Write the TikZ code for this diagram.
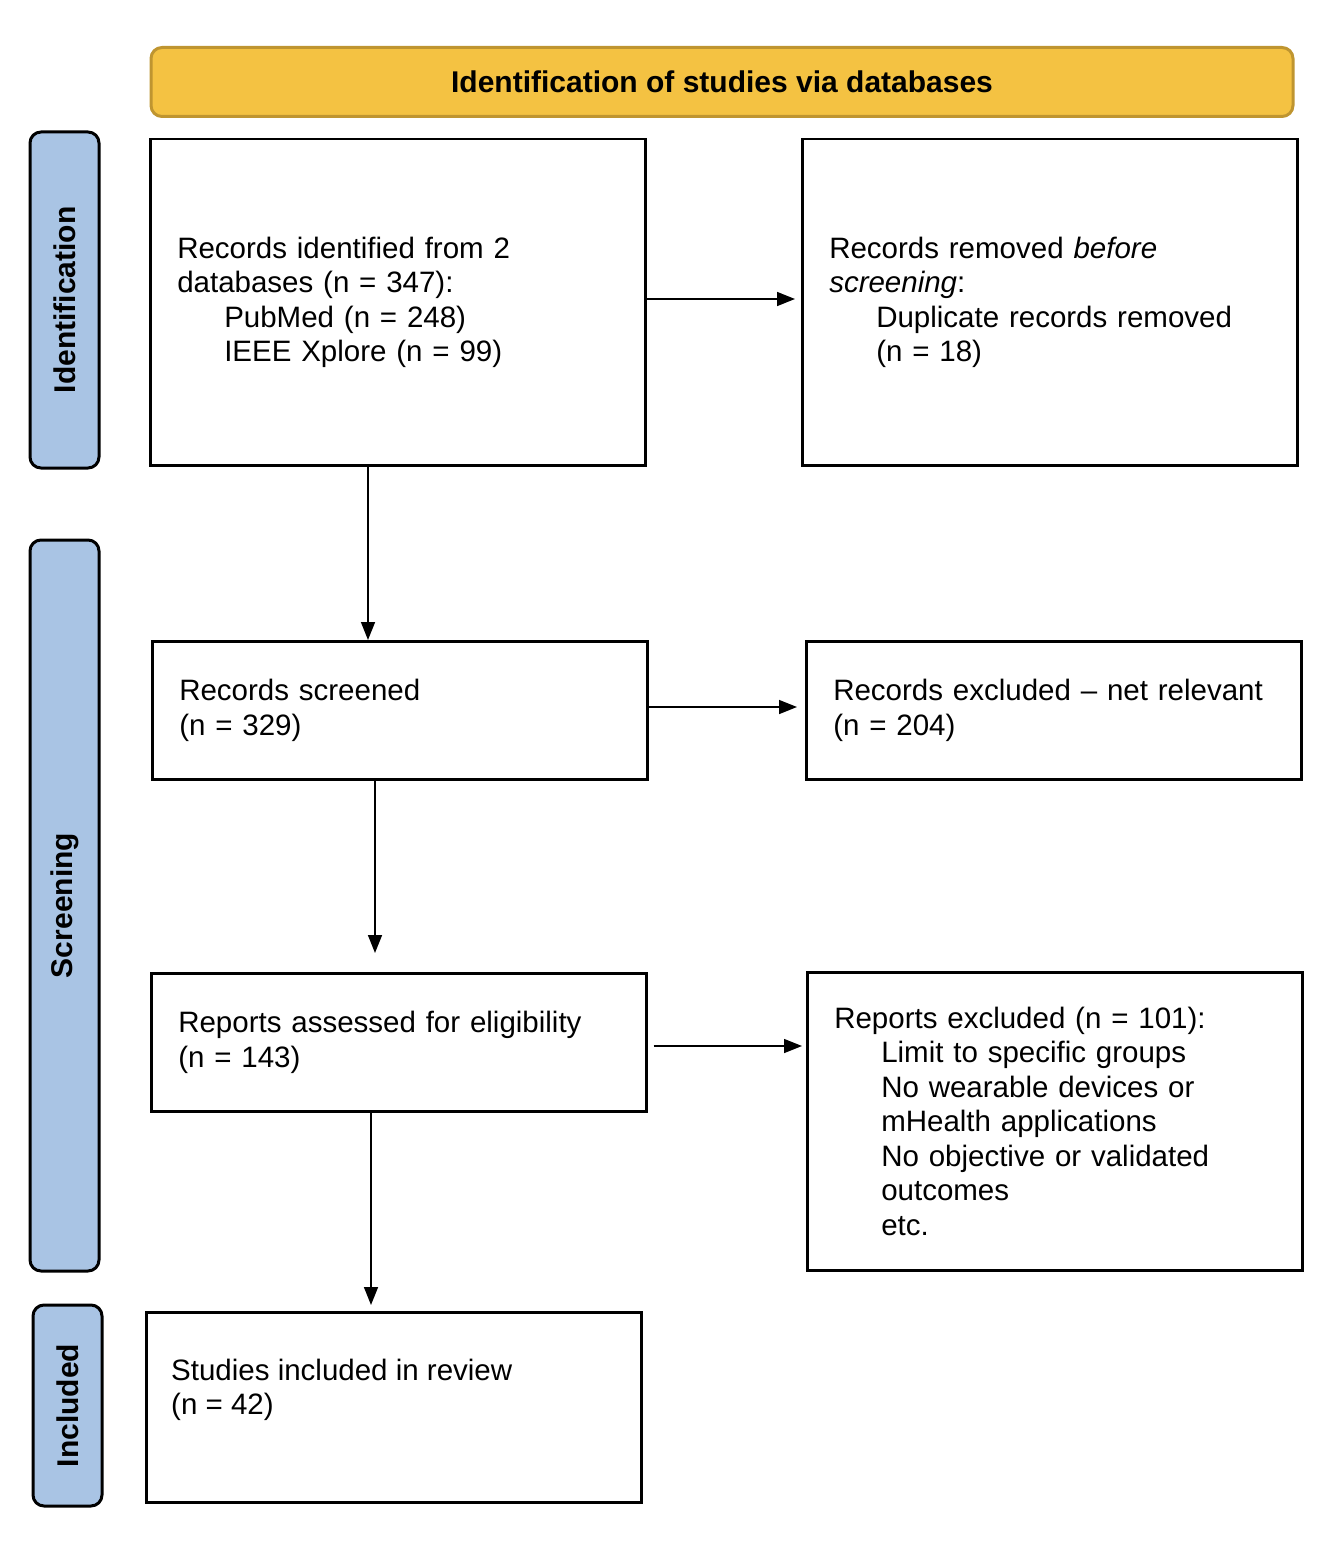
\documentclass[tikz,border=0pt]{standalone}
\usepackage{fontspec}
\setmainfont{Liberation Sans}
\usetikzlibrary{arrows.meta,calc}
\definecolor{gold}{HTML}{F4C242}
\definecolor{golddark}{HTML}{BF9530}
\definecolor{sideblue}{HTML}{A9C4E4}
\begin{document}
\begin{tikzpicture}[x=1pt,y=-1pt,
  font=\fontsize{29.5}{34.5}\selectfont,
  box/.style={draw=black, line width=2.5pt, inner xsep=27pt, inner ysep=0pt, align=left, anchor=north west},
  side/.style={draw=black, fill=sideblue, line width=3pt, rounded corners=11pt, rotate=90,
    minimum height=69pt, inner sep=0pt, font=\fontsize{30}{34.5}\selectfont\bfseries},
  arr/.style={line width=1.5pt, -{Triangle[length=18pt,width=14pt]}},
  txt/.style={align=left, inner sep=0pt}
]
\useasboundingbox (0,0) rectangle (1338,1560);

% header
\node[draw=golddark, fill=gold, line width=3pt, rounded corners=11pt,
      minimum width=1142pt, minimum height=69pt, inner sep=0pt,
      font=\fontsize{30}{34.5}\selectfont\bfseries] (hdr) at (722,82)
      {Identification of studies via databases};

% side labels
\node[side, minimum width=336pt] (sid) at (64.5,300) {Identification};
\node[side, minimum width=731pt] (sscr) at (64.5,905.5) {Screening};
\node[side, minimum width=201pt] (sinc) at (67.5,1405.5) {Included};

% boxes
\node[box, text width=441pt, minimum height=326pt] (b1) at (149,138)
  {Records identified from 2\\databases (n = 347):\\\hspace*{47pt}PubMed (n = 248)\\\hspace*{47pt}IEEE Xplore (n = 99)};
\node[box, text width=441pt, minimum height=326pt] (b2) at (801,138)
  {Records removed \textit{before}\\\textit{screening}:\\\hspace*{47pt}Duplicate records removed\\\hspace*{47pt}(n = 18)};
\node[box, text width=441pt, minimum height=138pt] (b3) at (151,640)
  {Records screened\\(n = 329)};
\node[box, text width=441pt, minimum height=138pt] (b4) at (805,640)
  {Records excluded -- net relevant\\(n = 204)};
\node[box, text width=441pt, minimum height=138pt] (b5) at (150,972)
  {Reports assessed for eligibility\\(n = 143)};
\node[box, text width=441pt, minimum height=298pt] (b6) at (806,971)
  {Reports excluded (n = 101):\\\hspace*{47pt}Limit to specific groups\\\hspace*{47pt}No wearable devices or\\\hspace*{47pt}mHealth applications\\\hspace*{47pt}No objective or validated\\\hspace*{47pt}outcomes\\\hspace*{47pt}etc.};
\node[box, minimum width=495pt, minimum height=190pt, inner sep=0pt] (b7) at (145,1311) {};
\node[txt, anchor=west] (t7) at ($(b7.north west)+(26,79)$)
  {Studies included in review\\(n = 42)};

% connectors
\draw[arr, shorten >=6pt] (b1.east |- 0,299) -- (b2.west |- 0,299);
\draw[arr] (b1.south -| 368,0) -- (b3.north -| 368,0);
\draw[arr, shorten >=8pt] (b3.east |- 0,707) -- (b4.west |- 0,707);
\draw[arr, shorten >=19pt] (b3.south -| 375,0) -- (b5.north -| 375,0);
\draw[arr, shorten <=6pt, shorten >=4pt] (b5.east |- 0,1046) -- (b6.west |- 0,1046);
\draw[arr, shorten >=6pt] (b5.south -| 371,0) -- (b7.north -| 371,0);
\end{tikzpicture}
\end{document}
